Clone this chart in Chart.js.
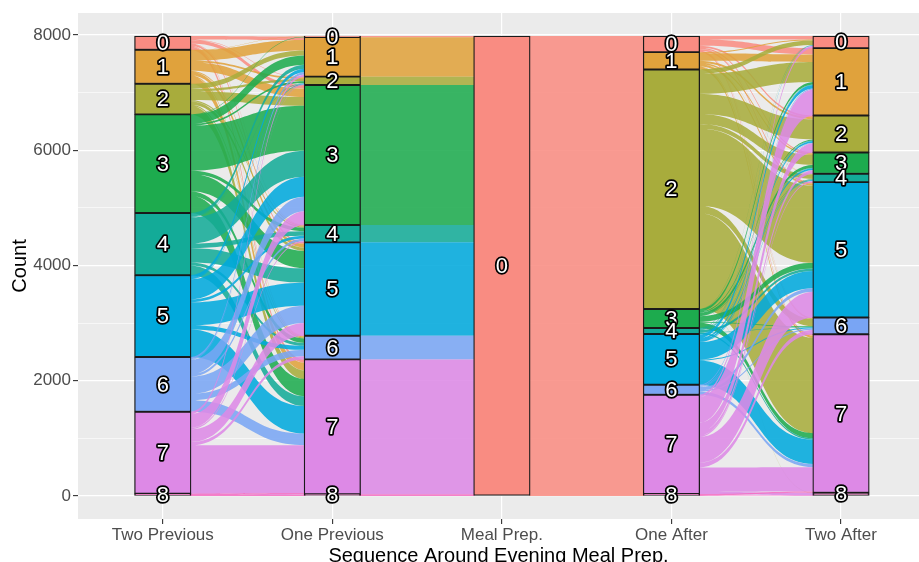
<!DOCTYPE html>
<html>
<head>
<meta charset="utf-8">
<script src="https://cdn.jsdelivr.net/npm/chart.js@4.4.1/dist/chart.umd.min.js"></script>
<style>
  html, body { margin: 0; padding: 0; background: #fff; overflow: hidden; }
  canvas { display: block; }
</style>
</head>
<body>
<canvas id="chart" width="919" height="562"></canvas>
<script>
// steps of the sequence (x axis) and the activity states
const steps = ['Two Previous', 'One Previous', 'Meal Prep.', 'One After', 'Two After'];
const states = ['0', '1', '2', '3', '4', '5', '6', '7', '8'];

// stratum sizes at each step, state 0 .. 8
const twoPrevious = [240, 590, 530, 1710, 1080, 1420, 950, 1420, 40];
const onePrevious = [20, 685, 145, 2430, 300, 1620, 410, 2340, 30];
const mealPrep    = [7980, 0, 0, 0, 0, 0, 0, 0, 0];
const oneAfter    = [280, 300, 4155, 330, 105, 880, 175, 1720, 35];
const twoAfter    = [210, 1170, 640, 370, 145, 2350, 290, 2750, 55];

// transitions: row = state before, column = state after
const twoPrevToOnePrev = [
  [10, 50, 10, 60, 10, 30, 10, 60, 0],
  [5, 180, 30, 150, 15, 60, 20, 130, 0],
  [0, 90, 40, 150, 20, 60, 20, 150, 0],
  [5, 160, 30, 780, 60, 300, 75, 300, 0],
  [0, 70, 10, 450, 80, 250, 50, 170, 0],
  [0, 60, 10, 350, 50, 400, 70, 480, 0],
  [0, 40, 10, 250, 40, 300, 110, 200, 0],
  [0, 35, 5, 240, 25, 220, 55, 830, 10],
  [0, 0, 0, 0, 0, 0, 0, 20, 20]
];
const oneAfterToTwoAfter = [
  [60, 110, 30, 20, 5, 25, 10, 20, 0],
  [20, 130, 35, 25, 5, 35, 10, 40, 0],
  [75, 350, 350, 170, 80, 1340, 130, 1655, 5],
  [5, 40, 20, 50, 10, 100, 15, 90, 0],
  [0, 10, 5, 10, 10, 40, 5, 25, 0],
  [10, 60, 30, 30, 10, 300, 20, 420, 0],
  [0, 20, 10, 5, 5, 60, 20, 55, 0],
  [40, 450, 160, 60, 20, 450, 80, 420, 40],
  [0, 0, 0, 0, 0, 0, 0, 25, 10]
];

const yTicks = [0, 2000, 4000, 6000, 8000];
const yMinorTicks = [1000, 3000, 5000, 7000];

const stateColors = ['#F98C82', '#E0A23C', '#A8AC3C', '#1DAB4E', '#13AB98',
                     '#00A9DC', '#79A5F4', '#DD89E6', '#F46DC2'];
const FONT = '"Liberation Sans", Arial, sans-serif';
const BAR_PX = 56.5;

const strata = [twoPrevious, onePrevious, mealPrep, oneAfter, twoAfter];

// everything goes into / comes out of the single meal prep state
const onePrevToMeal = onePrevious.map(v => states.map((s, j) => j === 0 ? v : 0));
const mealToOneAfter = states.map((s, i) => i === 0 ? oneAfter.slice() : states.map(() => 0));
const transitions = [twoPrevToOnePrev, onePrevToMeal, mealToOneAfter, oneAfterToTwoAfter];

// state 0 sits on top of each stack
function stackTops(counts) {
  const total = counts.reduce((a, b) => a + b, 0);
  const tops = [];
  let acc = total;
  counts.forEach(c => { tops.push(acc); acc -= c; });
  return tops;
}

function withAlpha(hex, a) {
  const n = parseInt(hex.slice(1), 16);
  return `rgba(${n >> 16},${(n >> 8) & 255},${n & 255},${a})`;
}

const datasets = states.map((s, k) => ({
  label: s,
  data: strata.map((counts, a) => {
    const top = stackTops(counts)[k];
    return counts[k] > 0 ? { x: a + 1, y: [top - counts[k], top] } : null;
  }).filter(d => d),
  backgroundColor: stateColors[k],
  borderColor: '#1a1a1a',
  borderWidth: 1.3,
  borderSkipped: false,
  barThickness: BAR_PX,
  grouped: false
}));

const panelBg = {
  id: 'panelBg',
  beforeDraw(chart) {
    const { ctx, chartArea: a } = chart;
    ctx.save();
    ctx.fillStyle = '#EBEBEB';
    ctx.fillRect(a.left, a.top, a.right - a.left, a.bottom - a.top);
    ctx.restore();
  }
};

// ribbons between neighbouring steps, one fill per source state
const flowPlugin = {
  id: 'flows',
  beforeDatasetsDraw(chart) {
    const { ctx, chartArea: area, scales: { x, y } } = chart;
    ctx.save();
    ctx.beginPath();
    ctx.rect(area.left, area.top, area.right - area.left, area.bottom - area.top);
    ctx.clip();
    transitions.forEach((m, a) => {
      const srcTop = stackTops(strata[a]);
      const dstTop = stackTops(strata[a + 1]);
      const srcOff = states.map(() => 0);
      const dstOff = states.map(() => 0);
      const x0 = x.getPixelForValue(a + 1) + BAR_PX / 2 - 1;
      const x1 = x.getPixelForValue(a + 2) - BAR_PX / 2 + 1;
      const xm = (x0 + x1) / 2;
      m.forEach((row, i) => {
        ctx.beginPath();
        let any = false;
        row.forEach((v, j) => {
          if (!v) return;
          any = true;
          const l0 = srcTop[i] - srcOff[i], l1 = l0 - v;
          const r0 = dstTop[j] - dstOff[j], r1 = r0 - v;
          srcOff[i] += v;
          dstOff[j] += v;
          const yl0 = y.getPixelForValue(l0), yl1 = y.getPixelForValue(l1);
          const yr0 = y.getPixelForValue(r0), yr1 = y.getPixelForValue(r1);
          ctx.moveTo(x0, yl0);
          ctx.bezierCurveTo(xm, yl0, xm, yr0, x1, yr0);
          ctx.lineTo(x1, yr1);
          ctx.bezierCurveTo(xm, yr1, xm, yl1, x0, yl1);
          ctx.closePath();
        });
        if (!any) return;
        ctx.fillStyle = withAlpha(stateColors[i], 0.87);
        ctx.fill('nonzero');
      });
    });
    ctx.restore();
  }
};

const labelPlugin = {
  id: 'stratumLabels',
  afterDatasetsDraw(chart) {
    const { ctx, scales: { x, y } } = chart;
    ctx.save();
    ctx.font = `22px ${FONT}`;
    ctx.textAlign = 'center';
    ctx.textBaseline = 'middle';
    ctx.lineJoin = 'round';
    strata.forEach((counts, a) => {
      const tops = stackTops(counts);
      counts.forEach((c, k) => {
        if (!c) return;
        const px = x.getPixelForValue(a + 1);
        const py = y.getPixelForValue(tops[k] - c / 2) + 1;
        ctx.lineWidth = 3.5;
        ctx.strokeStyle = '#000';
        ctx.strokeText(states[k], px, py);
        ctx.fillStyle = '#fff';
        ctx.fillText(states[k], px, py);
      });
    });
    ctx.restore();
  }
};

new Chart(document.getElementById('chart'), {
  type: 'bar',
  data: { datasets },
  options: {
    responsive: false,
    animation: false,
    layout: { padding: { top: 13, left: 0, right: 0, bottom: 0 } },
    plugins: { legend: { display: false }, tooltip: { enabled: false } },
    scales: {
      x: {
        type: 'linear',
        min: 0.5,
        max: 5.46,
        offset: false,
        border: { display: false },
        grid: { color: '#fff', lineWidth: 1.2, tickLength: 5, tickColor: '#333', tickWidth: 1.1, offset: false },
        afterBuildTicks: s => { s.ticks = steps.map((t, i) => ({ value: i + 1 })); },
        ticks: {
          autoSkip: false,
          maxRotation: 0,
          padding: 1,
          color: '#4D4D4D',
          font: { family: FONT, size: 17 },
          callback: v => steps[v - 1] || ''
        },
        title: {
          display: true,
          text: 'Sequence Around Evening Meal Prep.',
          color: '#000',
          font: { family: FONT, size: 20, lineHeight: 1 },
          padding: { top: 0, bottom: -4 }
        },
        afterFit: s => { s.height = 43; }
      },
      y: {
        min: -399,
        max: 8379,
        border: { display: false },
        grid: {
          color: '#fff',
          lineWidth: c => yTicks.includes(c.tick && c.tick.value) ? 1.2 : 0.6,
          tickLength: 5,
          tickWidth: 1.1,
          tickColor: c => yTicks.includes(c.tick && c.tick.value) ? '#333' : 'rgba(0,0,0,0)'
        },
        afterBuildTicks: s => {
          s.ticks = yTicks.concat(yMinorTicks).sort((a, b) => a - b).map(v => ({ value: v }));
        },
        ticks: {
          autoSkip: false,
          padding: 2,
          color: '#4D4D4D',
          font: { family: FONT, size: 17 },
          callback: v => yTicks.includes(v) ? String(v) : ''
        },
        title: {
          display: true,
          text: 'Count',
          color: '#000',
          font: { family: FONT, size: 20, lineHeight: 1 },
          padding: { top: 10, bottom: 0 }
        },
        afterFit: s => { s.width = 78; }
      }
    }
  },
  plugins: [panelBg, flowPlugin, labelPlugin]
});
</script>
</body>
</html>
